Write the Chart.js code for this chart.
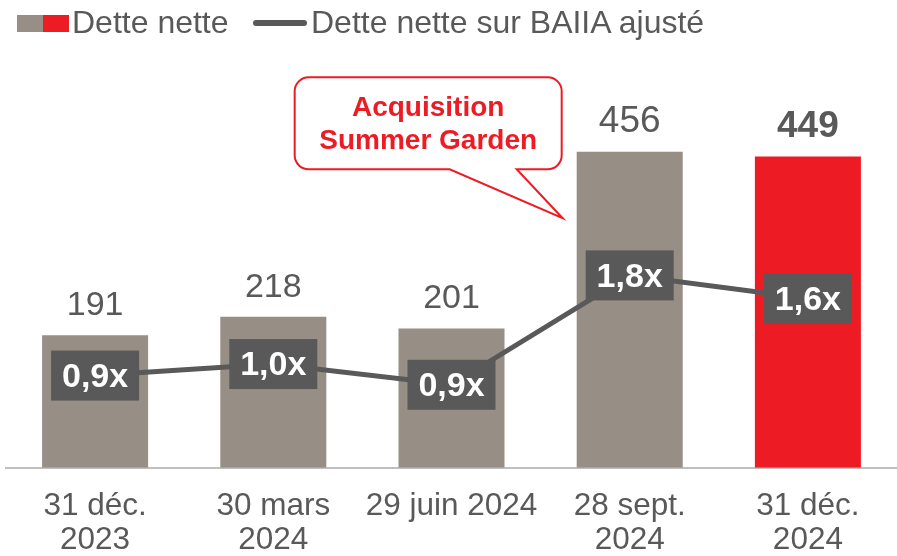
<!DOCTYPE html>
<html>
<head>
<meta charset="utf-8">
<script src="https://cdn.jsdelivr.net/npm/chart.js@4.4.1/dist/chart.umd.min.js"></script>
<style>
	body { margin: 0; background: #fff; font-family: "Liberation Sans", Arial, sans-serif; }
	#wrap { position: relative; width: 897px; height: 556px; }
	#legend { position: absolute; left: 0; top: 0; height: 45px; width: 897px; color: #595959; font-size: 32px; }
	.sq { position: absolute; top: 15px; width: 26px; height: 17px; }
	.lg-text { position: absolute; top: 4px; line-height: 36px; white-space: nowrap; }
	.lg-line { position: absolute; left: 253px; top: 20px; width: 54px; height: 6px; background: #595959; border-radius: 3px; }
</style>
</head>
<body>
<div id="wrap">
	<canvas id="debtChart" width="897" height="556"></canvas>
	<div id="legend">
		<div class="sq" style="left:17px; background:#978e85"></div>
		<div class="sq" style="left:43px; background:#ed1c24"></div>
		<div class="lg-text" style="left:72px">Dette nette</div>
		<div class="lg-line"></div>
		<div class="lg-text" style="left:311px">Dette nette sur BAIIA ajusté</div>
	</div>
</div>
<script>
// categories (two lines each)
const periods = [
	["31 déc.", "2023"],
	["30 mars", "2024"],
	["29 juin 2024"],
	["28 sept.", "2024"],
	["31 déc.", "2024"]
];
// dette nette (M$)
const netDebt = [191, 218, 201, 456, 449];
const netDebtLabels = ["191", "218", "201", "456", "449"];
// dette nette / BAIIA ajusté
const leverage = [0.94, 1.04, 0.86, 1.81, 1.61];
const leverageLabels = ["0,9x", "1,0x", "0,9x", "1,8x", "1,6x"];
const calloutText = ["Acquisition", "Summer Garden"];

const GREY = "#978e85";
const RED = "#ed1c24";
const DARK = "#595959";
const FONT = "'Liberation Sans', Arial, sans-serif";

const barColors = netDebt.map((v, i) => i == netDebt.length - 1 ? RED : GREY);

// labels above bars + boxes on the line + callout
const labelsPlugin = {
	id: 'labelsPlugin',
	afterDatasetsDraw(chart) {
		const ctx = chart.ctx;
		const bars = chart.getDatasetMeta(1).data;
		const pts = chart.getDatasetMeta(0).data;

		ctx.save();
		ctx.textAlign = 'center';
		ctx.textBaseline = 'alphabetic';
		bars.forEach((b, i) => {
			const last = i == bars.length - 1;
			ctx.font = (last ? 'bold ' : '') + (i >= 3 ? '37px ' : '34px ') + FONT;
			ctx.fillStyle = DARK;
			ctx.fillText(netDebtLabels[i], b.x, b.y - 20);
		});

		// boxes on line
		pts.forEach((p, i) => {
			const w = 88, h = 50;
			ctx.fillStyle = DARK;
			ctx.fillRect(p.x - w / 2, p.y - h / 2, w, h);
			ctx.fillStyle = '#fff';
			ctx.font = 'bold 34px ' + FONT;
			ctx.textBaseline = 'middle';
			ctx.fillText(leverageLabels[i], p.x, p.y + 2);
		});

		// callout bubble pointing at the 28 sept. bar
		const b = bars[3];
		const tipX = b.x - b.width / 2 - 14;
		const tipY = chart.scales.y.getPixelForValue(360);
		const left = tipX - 268, right = tipX - 1, top = tipY - 141, bottom = tipY - 49;
		const r = 14;
		ctx.beginPath();
		ctx.moveTo(left + r, top);
		ctx.lineTo(right - r, top);
		ctx.arcTo(right, top, right, top + r, r);
		ctx.lineTo(right, bottom - r);
		ctx.arcTo(right, bottom, right - r, bottom, r);
		ctx.lineTo(tipX - 46, bottom);
		ctx.lineTo(tipX, tipY);
		ctx.lineTo(tipX - 113, bottom);
		ctx.lineTo(left + r, bottom);
		ctx.arcTo(left, bottom, left, bottom - r, r);
		ctx.lineTo(left, top + r);
		ctx.arcTo(left, top, left + r, top, r);
		ctx.closePath();
		ctx.fillStyle = '#fff';
		ctx.fill();
		ctx.strokeStyle = RED;
		ctx.lineWidth = 2;
		ctx.stroke();

		ctx.fillStyle = RED;
		ctx.font = 'bold 28px ' + FONT;
		ctx.textBaseline = 'middle';
		const cx = (left + right) / 2;
		ctx.fillText(calloutText[0], cx, top + 31);
		ctx.fillText(calloutText[1], cx, top + 64);
		ctx.restore();
	}
};

const ctx = document.getElementById('debtChart').getContext('2d');

new Chart(ctx, {
	type: 'bar',
	data: {
		labels: periods,
		datasets: [
			{
				type: 'line',
				label: 'Dette nette sur BAIIA ajusté',
				data: leverage,
				yAxisID: 'y1',
				borderColor: DARK,
				borderWidth: 5,
				pointRadius: 0,
				tension: 0,
				order: 0
			},
			{
				label: 'Dette nette',
				data: netDebt,
				backgroundColor: barColors,
				barPercentage: 0.595,
				categoryPercentage: 1,
				order: 1
			}
		]
	},
	options: {
		responsive: false,
		animation: false,
		layout: { padding: { top: 52, left: 6, right: 0, bottom: -15 } },
		plugins: {
			legend: { display: false },
			tooltip: { enabled: false }
		},
		scales: {
			x: {
				grid: { display: false },
				border: { display: true, color: '#bfbfbf', width: 2 },
				ticks: {
					color: DARK,
					font: { family: FONT, size: 31.5, lineHeight: 1.1 },
					padding: 13,
					maxRotation: 0,
					autoSkip: false
				}
			},
			y: {
				display: false,
				min: 0,
				max: 600
			},
			y1: {
				display: false,
				min: 0.14,
				max: 3.75
			}
		}
	},
	plugins: [labelsPlugin]
});
</script>
</body>
</html>
